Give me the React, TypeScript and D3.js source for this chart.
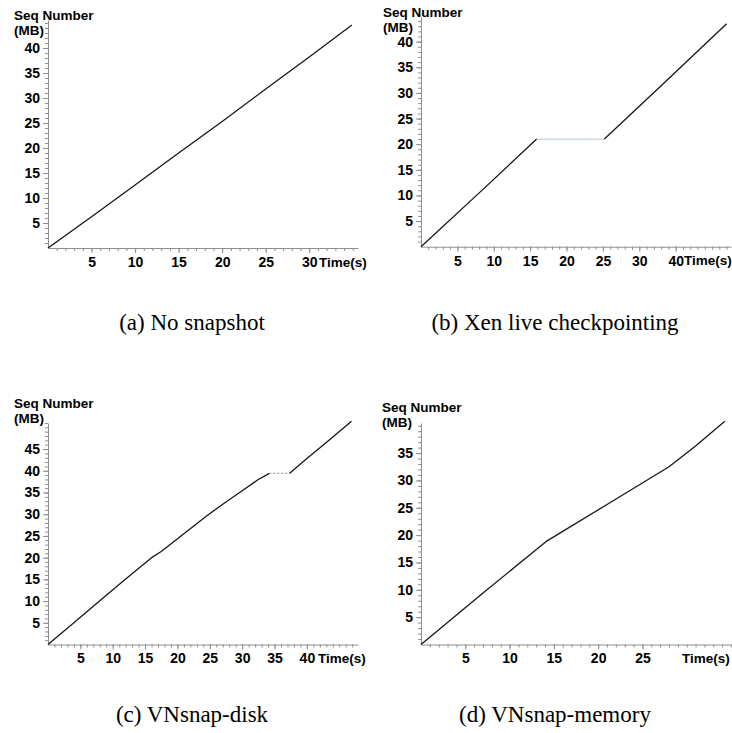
import React, { useEffect, useRef } from "react";
import * as d3 from "d3";

// (a) No snapshot
const aTime = [0, 5.2, 10, 15, 20, 25, 30, 34.9];
const aSeq = [0, 6.5, 12.6, 19, 25.3, 31.8, 38.2, 44.6];

// (b) Xen live checkpointing
const bTime = [0, 8, 15.9, 25.2, 33, 42];
const bSeq = [0, 10.5, 21, 21, 31.4, 43.5];
const bPause = [15.9, 25.2];

// (c) VNsnap-disk
const cTime = [0, 4, 8, 12, 16, 17.5, 20.5, 24.5, 27, 30, 32.5, 34.2, 37.3, 40, 43, 46.9];
const cSeq = [0, 5, 10.1, 15.1, 20, 21.4, 24.9, 29.6, 32.3, 35.4, 38, 39.4, 39.4, 42.8, 46.5, 51.4];
const cPause = [34.2, 37.3];

// (d) VNsnap-memory
const dTime = [0, 7, 14.1, 21, 28, 31, 34.3];
const dSeq = [0, 9.4, 18.8, 25.6, 32.5, 36.3, 40.8];

// tick labels
const aYTicks = [5, 10, 15, 20, 25, 30, 35, 40];
const aXTicks = [5, 10, 15, 20, 25, 30];
const aXText = ["5", "10", "15", "20", "25", "30"];
const bYTicks = [5, 10, 15, 20, 25, 30, 35, 40];
const bXTicks = [5, 10, 15, 20, 25, 30, 35];
const bXText = ["5", "10", "15", "20", "25", "30", "40"];
const cYTicks = [5, 10, 15, 20, 25, 30, 35, 40, 45];
const cXTicks = [5, 10, 15, 20, 25, 30, 35, 40];
const cXText = ["5", "10", "15", "20", "25", "30", "35", "40"];
const dYTicks = [5, 10, 15, 20, 25, 30, 35];
const dXTicks = [5, 10, 15, 20, 25];
const dXText = ["5", "10", "15", "20", "25"];

const captions = ["(a) No snapshot", "(b) Xen live checkpointing", "(c) VNsnap-disk", "(d) VNsnap-memory"];

const panels = [
  { time: aTime, seq: aSeq, pause: null, yTicks: aYTicks, xTicks: aXTicks, xText: aXText,
    xMax: 35.6, yMax: 45.6, left: 48, right: 358, top: 20, bottom: 248,
    labelX: 14, labelY: 20, timeX: 319, capX: 192, capY: 330 },
  { time: bTime, seq: bSeq, pause: bPause, yTicks: bYTicks, xTicks: bXTicks, xText: bXText,
    xMax: 42.6, yMax: 44.8, left: 421, right: 731, top: 17, bottom: 246.7,
    labelX: 383, labelY: 17, timeX: 684, capX: 555, capY: 330 },
  { time: cTime, seq: cSeq, pause: cPause, yTicks: cYTicks, xTicks: cXTicks, xText: cXText,
    xMax: 47.9, yMax: 51, left: 48, right: 358, top: 423, bottom: 644.5,
    labelX: 14, labelY: 408, timeX: 318, capX: 192, capY: 722 },
  { time: dTime, seq: dSeq, pause: null, yTicks: dYTicks, xTicks: dXTicks, xText: dXText,
    xMax: 35, yMax: 40.5, left: 421, right: 731, top: 423, bottom: 644.5,
    labelX: 382, labelY: 412, timeX: 682, capX: 555, capY: 722 },
];

const AXIS = "#8f8f8f";
const SANS = "'Liberation Sans', Arial, sans-serif";

const App = () => {
  const svgRef = useRef(null);

  useEffect(() => {
    const svg = d3.select(svgRef.current);
    svg.selectAll("*").remove();

    panels.forEach((p, idx) => {
      const x = d3.scaleLinear().domain([0, p.xMax]).range([p.left, p.right]);
      const y = d3.scaleLinear().domain([0, p.yMax]).range([p.bottom, p.top]);
      const g = svg.append("g");

      // minor ticks + axis lines
      g.append("g")
        .attr("transform", `translate(${p.left},0)`)
        .call(d3.axisLeft(y).tickValues(d3.range(1, Math.floor(p.yMax) + 1)).tickSize(3).tickSizeOuter(0).tickFormat(() => ""));
      g.append("g")
        .attr("transform", `translate(0,${p.bottom})`)
        .call(d3.axisBottom(x).tickValues(d3.range(1, Math.floor(p.xMax) + 1)).tickSize(3).tickSizeOuter(0).tickFormat(() => ""));

      // major ticks with labels
      g.append("g")
        .attr("transform", `translate(${p.left},0)`)
        .call(d3.axisLeft(y).tickValues(p.yTicks).tickSize(5).tickPadding(3))
        .call((s) => s.select(".domain").remove());
      g.append("g")
        .attr("transform", `translate(0,${p.bottom})`)
        .call(d3.axisBottom(x).tickValues(p.xTicks).tickSize(5).tickPadding(4).tickFormat((d, i) => p.xText[i]))
        .call((s) => s.select(".domain").remove());

      g.selectAll("path.domain, .tick line").attr("stroke", AXIS);
      g.selectAll(".tick text")
        .attr("fill", "#000")
        .attr("font-family", SANS)
        .attr("font-weight", "bold")
        .attr("font-size", 14);

      // axis titles
      const title = g.append("text").attr("font-family", SANS).attr("font-weight", "bold").attr("font-size", 13.5);
      title.append("tspan").attr("x", p.labelX).attr("y", p.labelY).text("Seq Number");
      title.append("tspan").attr("x", p.labelX).attr("y", p.labelY + 15).text("(MB)");
      g.append("text")
        .attr("x", p.timeX)
        .attr("y", p.bottom + 18.5)
        .attr("font-family", SANS)
        .attr("font-weight", "bold")
        .attr("font-size", 13.5)
        .text("Time(s)");

      // data line, split into runs of transfer / pause
      const pts = p.time.map((t, i) => [t, p.seq[i]]);
      const runs = [];
      for (let i = 0; i < pts.length - 1; i++) {
        const paused = !!p.pause && pts[i][0] >= p.pause[0] && pts[i + 1][0] <= p.pause[1];
        const last = runs[runs.length - 1];
        if (last && last.paused === paused) last.pts.push(pts[i + 1]);
        else runs.push({ paused, pts: [pts[i], pts[i + 1]] });
      }
      const line = d3.line().x((d) => x(d[0])).y((d) => y(d[1]));
      runs.forEach((r) => {
        const path = g.append("path")
          .attr("d", line(r.pts))
          .attr("fill", "none")
          .attr("stroke-linejoin", "round");
        if (!r.paused) path.attr("stroke", "#161616").attr("stroke-width", 1.3);
        else if (idx === 1) path.attr("stroke", "#c2d2da").attr("stroke-width", 1.2);
        else path.attr("stroke", "#9a9a9a").attr("stroke-width", 1.2).attr("stroke-dasharray", "2,2");
      });

      // caption
      svg.append("text")
        .attr("x", p.capX)
        .attr("y", p.capY)
        .attr("text-anchor", "middle")
        .attr("font-family", "'Liberation Serif', 'Times New Roman', serif")
        .attr("font-size", 23)
        .text(captions[idx]);
    });
  }, []);

  return (
    <svg
      ref={svgRef}
      width={732}
      height={733}
      style={{ position: "absolute", left: 0, top: 0, background: "#fff" }}
    />
  );
};

export default App;
